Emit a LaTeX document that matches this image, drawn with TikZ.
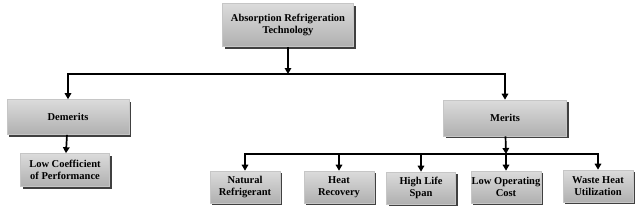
\documentclass[tikz,border=0pt]{standalone}
\usepackage{fontspec}
\setmainfont{Liberation Serif}
\usepackage{tikz}
\usetikzlibrary{arrows.meta,calc,positioning,shadows}
\tikzset{
  tree box/.style={rectangle,draw=gray!45,line width=0.6pt,
    top color=gray!28,bottom color=gray!62,
    drop shadow={shadow xshift=2.2pt,shadow yshift=-2.2pt,
      fill=black!75,opacity=1},
    align=center,inner sep=0pt,
    font=\fontsize{10.5}{12.5}\selectfont\bfseries},
  tree edge/.style={-{Triangle[length=6pt,width=6.5pt]},line width=1.7pt,
    black}
}
\begin{document}
\begin{tikzpicture}[x=1pt,y=-1pt]
    \useasboundingbox (0,0) rectangle (640,209);
    % top level
    \node[tree box,minimum width=131pt,minimum height=43pt]
      (technology) at (288,25) {Absorption Refrigeration\\Technology};
    \coordinate (split1) at (288,74);
    % second level
    \node[tree box,minimum width=122pt,minimum height=35pt]
      (demerits) at (68,117) {Demerits};
    \node[tree box,minimum width=123pt,minimum height=36pt]
      (merits) at (505,118) {Merits};
    \node[tree box,minimum width=89pt,minimum height=33pt]
      (coefficient) at (65,170) {Low Coefficient\\of Performance};
    \coordinate (split2) at (506,154);
    % merits
    \node[tree box,minimum width=70pt,minimum height=32pt]
      (natural) at (245,187) {Natural\\Refrigerant};
    \node[tree box,minimum width=70pt,minimum height=32pt]
      (heat) at (339,187) {Heat\\Recovery};
    \node[tree box,minimum width=69pt,minimum height=32pt]
      (life) at (421,188) {High Life\\Span};
    \node[tree box,minimum width=70pt,minimum height=32pt]
      (cost) at (506,187) {Low Operating\\Cost};
    \node[tree box,minimum width=70pt,minimum height=32pt]
      (waste) at (598,186) {Waste Heat\\Utilization};
    % connectors
    \draw[tree edge] (technology) -- (split1);
    \draw[tree edge] (split1) -| (demerits);
    \draw[tree edge] (split1) -| (merits);
    \draw[tree edge] (demerits) -- (coefficient);
    \draw[tree edge] (merits) -- (split2);
    \foreach \child in {natural,heat,life,cost,waste}
      \draw[tree edge] (split2) -| (\child);
  \end{tikzpicture}
\end{document}
